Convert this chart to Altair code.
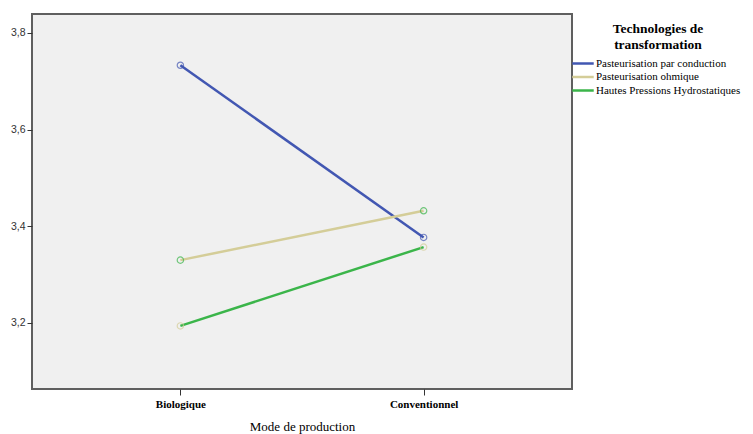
import altair as alt
import pandas as pd

modes = ["Biologique", "Conventionnel"]
technologies = ["Pasteurisation par conduction", "Pasteurisation ohmique", "Hautes Pressions Hydrostatiques"]
conduction = [3.733, 3.377]
ohmique = [3.330, 3.432]
hph = [3.194, 3.357]

line_colors = ["#4257b2", "#d4cd98", "#3bb54a"]
marker_colors = ["#4257b2", "#3bb54a", "#d4cd98"]

rows = []
for tech, vals in zip(technologies, [conduction, ohmique, hph]):
    for m, v in zip(modes, vals):
        rows.append({"Mode": m, "Technologie": tech, "Moyenne": v})
df = pd.DataFrame(rows)

x = alt.X("Mode:N", sort=modes,
          scale=alt.Scale(type="point", padding=0.61),
          axis=alt.Axis(title="Mode de production", labelAngle=0, domain=False,
                        ticks=True, tickSize=6, tickColor="#333333", tickWidth=1,
                        labelFont="Liberation Serif", labelFontWeight="bold",
                        labelFontSize=11, labelColor="#000000", labelPadding=3,
                        titleFont="Liberation Serif", titleFontWeight="normal",
                        titleFontSize=13, titleColor="#000000", titlePadding=11))
y = alt.Y("Moyenne:Q",
          scale=alt.Scale(domain=[3.0635, 3.839], zero=False, nice=False),
          axis=alt.Axis(title=None, values=[3.2, 3.4, 3.6, 3.8], domain=False,
                        ticks=True, tickSize=5, tickColor="#333333", tickWidth=1,
                        labelExpr="replace(format(datum.value, '.1f'), '.', ',')",
                        labelFont="Liberation Sans", labelFontSize=10.5,
                        labelColor="#333333", labelPadding=2, grid=False))

lines = alt.Chart(df).mark_line(strokeWidth=2.5).encode(
    x=x, y=y,
    color=alt.Color("Technologie:N", sort=technologies,
                    scale=alt.Scale(domain=technologies, range=line_colors),
                    legend=alt.Legend(title=["Technologies de", "transformation"],
                                      orient="none", legendX=543, legendY=8,
                                      titleFont="Liberation Serif", titleFontSize=13.5,
                                      titleFontWeight="bold", titleColor="#000000",
                                      titleAnchor="middle", titleAlign="center",
                                      titleLineHeight=16, titlePadding=4,
                                      labelFont="Liberation Serif", labelFontSize=11,
                                      labelColor="#000000", labelOffset=5,
                                      symbolType="M-1.65,0H1.65", symbolSize=169,
                                      symbolStrokeWidth=2.5, rowPadding=0.5,
                                      labelLimit=220)),
)

points = alt.Chart(df).mark_point(shape="circle", size=40, filled=False,
                                  strokeWidth=1.2).encode(
    x=x, y=y,
    color=alt.Color("Technologie:N", sort=technologies,
                    scale=alt.Scale(domain=technologies, range=marker_colors),
                    legend=None),
)

chart = alt.layer(lines, points).resolve_scale(color="independent").properties(
    width=540, height=375,
    autosize=alt.AutoSizeParams(type="none"),
    padding={"left": 24, "top": 6, "right": 173, "bottom": 48},
    background="#ffffff",
).configure_view(
    fill="#f0f0f0", stroke="#5f5f5f", strokeWidth=2
)

chart.save("out.html", embed_options={"renderer": "svg", "actions": False})
